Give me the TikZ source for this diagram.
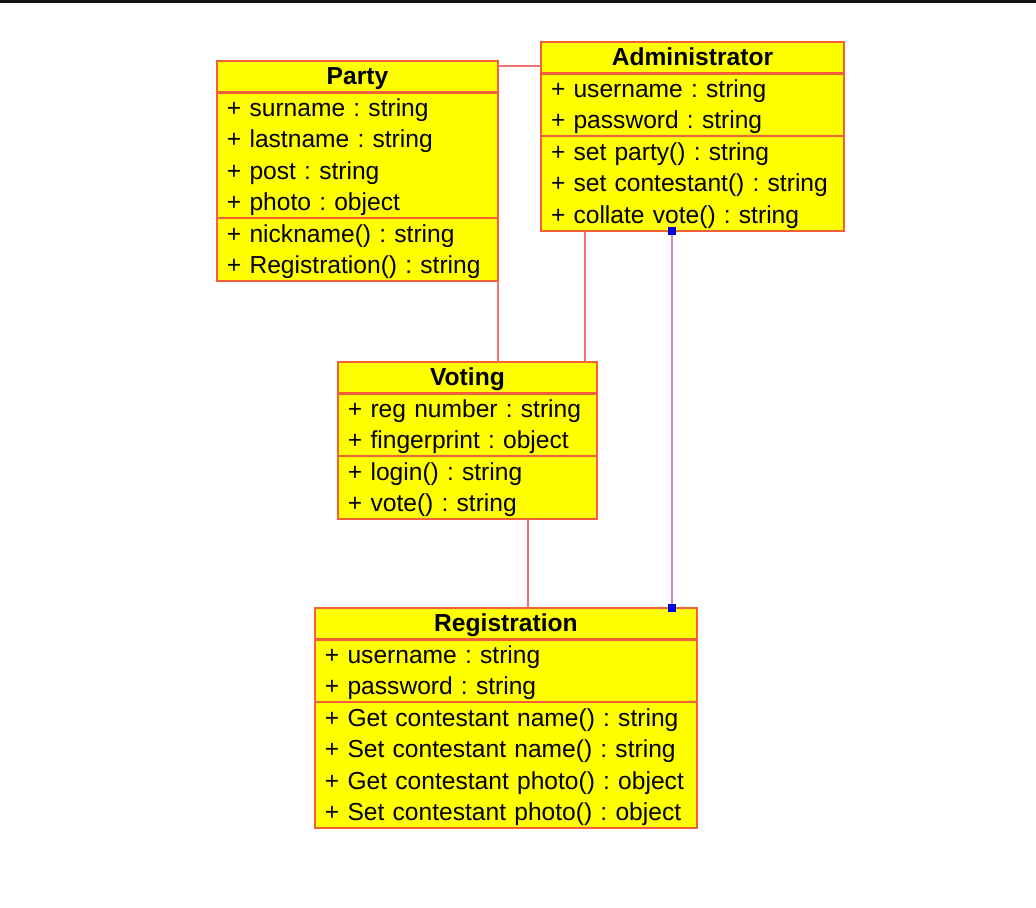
\documentclass[tikz,border=0pt]{standalone}
\usepackage{fontspec}
\setmainfont{Liberation Sans}
\usetikzlibrary{positioning}
\definecolor{classfill}{RGB}{255,255,0}
\definecolor{classline}{RGB}{245,95,55}
\definecolor{assocline}{RGB}{238,112,112}
\definecolor{linkline}{RGB}{195,140,200}
\definecolor{handleblue}{RGB}{0,0,225}
\definecolor{topbar}{RGB}{18,18,18}
\frenchspacing
\hyphenpenalty=10000
\newcommand{\rowstrut}{\rule[-4.3pt]{0pt}{17.9pt}}

\begin{document}
\begin{tikzpicture}[
  x=0.02cm, y=-0.02cm,
  node distance=0pt,
  part/.style={draw=classline, line width=1.3pt, fill=classfill, outer sep=0pt, inner xsep=0.2cm, inner ysep=0pt, font=\fontsize{14}{17.9}\selectfont, text width=#1, align=left, minimum height=17.9pt, execute at begin node=\rowstrut, execute at end node=\rowstrut},
  headpart/.style={part=#1, font=\fontsize{14}{17.9}\selectfont\bfseries, align=center},
  nrows/.style={minimum height=#1*17.9pt},
  assoc/.style={draw=assocline, line width=1.3pt},
  link/.style={draw=linkline, line width=1.3pt},
  handle/.style={fill=handleblue, inner sep=0pt, minimum size=0.16cm},
]
  \useasboundingbox (0,0) rectangle (1036,908);
  \fill[topbar] (0,0) rectangle (1036,3);

  \node[headpart=5.22cm, anchor=north west] (partyT) at (217,61) {Party};
  \node[part=5.22cm, nrows=4, below=of partyT] (partyA) {+ surname : string\\+ lastname : string\\+ post : string\\+ photo : object};
  \node[part=5.22cm, nrows=2, below=of partyA] (partyM) {+ nickname() : string\\+ Registration() : string};

  \node[headpart=5.66cm, anchor=north west] (adminT) at (541,42) {Administrator};
  \node[part=5.66cm, nrows=2, below=of adminT] (adminA) {+ username : string\\+ password : string};
  \node[part=5.66cm, nrows=3, below=of adminA] (adminM) {+ set party() : string\\+ set contestant() : string\\+ collate vote() : string};

  \node[headpart=4.78cm, anchor=north west] (votingT) at (338,362) {Voting};
  \node[part=4.78cm, nrows=2, below=of votingT] (votingA) {+ reg number : string\\+ fingerprint : object};
  \node[part=4.78cm, nrows=2, below=of votingA] (votingM) {+ login() : string\\+ vote() : string};

  \node[headpart=7.24cm, anchor=north west] (regT) at (315,608) {Registration};
  \node[part=7.24cm, nrows=2, below=of regT] (regA) {+ username : string\\+ password : string};
  \node[part=7.24cm, nrows=4, below=of regA] (regM) {+ Get contestant name() : string\\+ Set contestant name() : string\\+ Get contestant photo() : object\\+ Set contestant photo() : object};

  \draw[assoc] ([yshift=-0.1cm]partyT.north east) -- ([yshift=-0.1cm]partyT.north east -| adminT.west);
  \draw[assoc] (partyM.south east) -- (partyM.south east |- votingT.north);
  \draw[assoc] ([xshift=0.88cm]adminM.south west) -- ([xshift=0.88cm]adminM.south west |- votingT.north);
  \draw[assoc] ([xshift=3.8cm]votingM.south west) -- ([xshift=3.8cm]votingM.south west |- regT.north);

  \coordinate (adminEnd) at ([xshift=2.62cm]adminM.south west);
  \coordinate (regEnd) at (adminEnd |- regT.north);
  \draw[link] (adminEnd) -- (regEnd);
  \node[handle] (adminH) at (adminEnd) {};
  \node[handle] (regH) at (regEnd) {};
\end{tikzpicture}
\end{document}
